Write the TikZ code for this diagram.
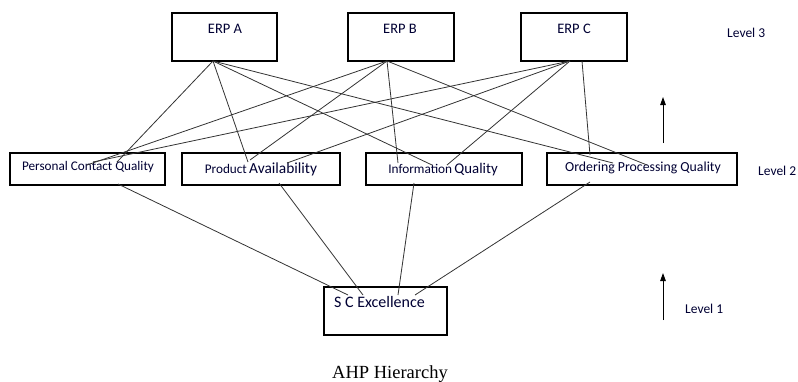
\documentclass[tikz,border=0pt]{standalone}
\usepackage{fontspec}
\setmainfont{Carlito}
\newfontfamily\capfont{Liberation Serif}
\usetikzlibrary{arrows.meta}
\newcommand{\fs}[1]{\fontsize{#1}{#1}\selectfont}
\begin{document}
\begin{tikzpicture}[x=1pt,y=-1pt,
  box/.style={draw=black,line width=1.1pt,inner sep=0pt},
  txt/.style={anchor=base,inner sep=0pt,text=black!80!blue},
  lvl/.style={anchor=base west,inner sep=0pt,text=black!80!blue,font=\fs{13.5}},
  link/.style={draw=black!80,line width=0.8pt},
  uparrow/.style={line width=1pt,-{Triangle[length=8pt,width=5.5pt]}}]
\useasboundingbox (0,0) rectangle (798,381);
% level 3 boxes
\node[box,minimum width=105,minimum height=48] (A) at (224.5,37) {};
\node[box,minimum width=106,minimum height=48] (B) at (401,37) {};
\node[box,minimum width=106,minimum height=48] (C) at (574,37) {};
\node[txt,font=\fs{14.5}] (At) at (225,33) {ERP A};
\node[txt,font=\fs{14.5}] (Bt) at (400,33) {ERP B};
\node[txt,font=\fs{14.5}] (Ct) at (574,33) {ERP C};
% level 2 boxes
\node[box,minimum width=155,minimum height=32] (P) at (87.5,169) {};
\node[box,minimum width=158,minimum height=32] (V) at (261,169) {};
\node[box,minimum width=156,minimum height=32] (I) at (444,169) {};
\node[box,minimum width=190,minimum height=32] (O) at (642,169) {};
\node[txt,font=\fs{13.2}] (Pt) at (88,170.5) {Personal Contact Quality};
\node[txt] (Vt) at (261,173.5) {{\fs{13.2}Product} {\fs{15.4}Availability}};
\node[txt] (It) at (443,173.5) {{\fs{13.3}Information} {\fs{14.8}Quality}};
\node[txt,font=\fs{13.8}] (Ot) at (643,171) {Ordering Processing Quality};
% level 1 box
\node[box,minimum width=123,minimum height=48] (S) at (385.5,311) {};
\node[txt,font=\fs{16}] (St) at (379.5,307) {S C Excellence};
% connector end points
\coordinate (a0) at (213,61);
\coordinate (b0) at (387,61);
\coordinate (c0) at (570,61);
\coordinate (c1) at (582,61);
\coordinate (pA) at (117,162);
\coordinate (pB) at (87,165);
\coordinate (pC) at (93,162);
\coordinate (vA) at (248,162);
\coordinate (vB) at (250,160);
\coordinate (vC) at (287,163);
\coordinate (iA) at (432,165);
\coordinate (iB) at (398,163);
\coordinate (iC) at (447,165);
\coordinate (oA) at (613,163);
\coordinate (oB) at (647,165);
\coordinate (oC) at (590,155);
\coordinate (pS) at (118,184);
\coordinate (vS) at (279,183);
\coordinate (iS) at (414,183);
\coordinate (oS) at (590,182);
\coordinate (s1) at (348,295);
\coordinate (s2) at (363,295);
\coordinate (s3) at (398,295);
\coordinate (s4) at (415,295);
% connectors level 3 -> level 2
\draw[link] (a0) -- (pA);
\draw[link] (a0) -- (vA);
\draw[link] (a0) -- (iA);
\draw[link] (a0) -- (oA);
\draw[link] (b0) -- (pB);
\draw[link] (b0) -- (vB);
\draw[link] (b0) -- (iB);
\draw[link] (b0) -- (oB);
\draw[link] (c0) -- (pC);
\draw[link] (c0) -- (vC);
\draw[link] (c0) -- (iC);
\draw[link] (c1) -- (oC);
% connectors level 2 -> level 1
\draw[link] (pS) -- (s1);
\draw[link] (vS) -- (s2);
\draw[link] (iS) -- (s3);
\draw[link] (oS) -- (s4);
% arrows
\coordinate (u1s) at (663,143);
\coordinate (u1e) at (663,97);
\coordinate (u2s) at (663,320);
\coordinate (u2e) at (663,273);
\draw[uparrow] (u1s) -- (u1e);
\draw[uparrow] (u2s) -- (u2e);
% level labels
\node[lvl] (L3) at (727,37) {Level 3};
\node[lvl] (L2) at (758,175) {Level 2};
\node[lvl] (L1) at (685,313) {Level 1};
% caption
\node[anchor=base,inner sep=0pt,font=\capfont\fs{18.5}] (cap) at (390,378) {AHP Hierarchy};
\end{tikzpicture}
\end{document}
